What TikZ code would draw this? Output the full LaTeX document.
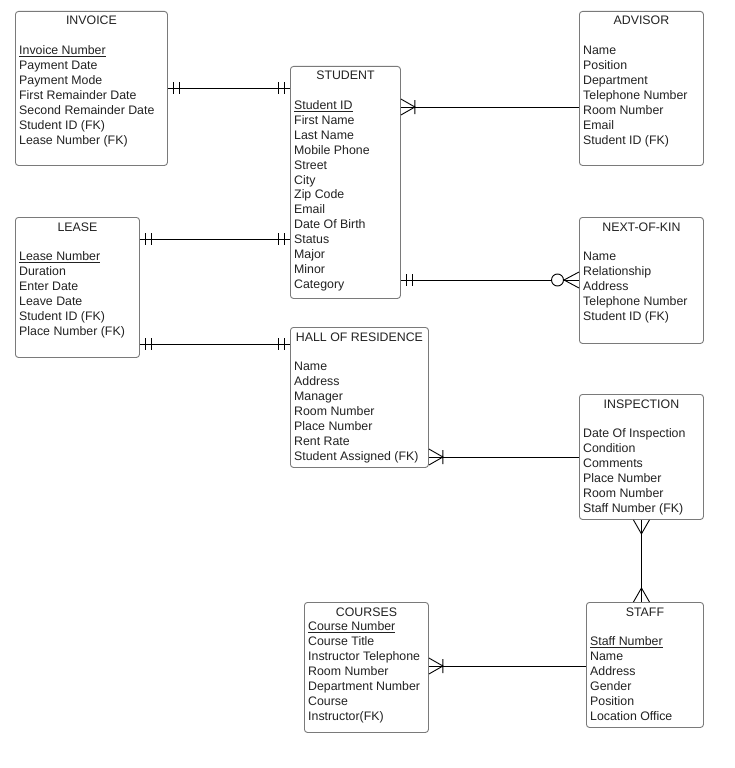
\documentclass[tikz,border=0pt]{standalone}
\usepackage{fontspec}
\setmainfont{Liberation Sans}
\usetikzlibrary{calc}
\definecolor{txt}{HTML}{222222}
\definecolor{boxgray}{HTML}{7A7A7A}
\newcommand\efont{\fontsize{12.35}{15}\selectfont}
\tikzset{
  ebox/.style={draw=boxgray, line width=0.9pt, rounded corners=3pt, fill=white, inner sep=0pt, anchor=north west},
  attr/.style={anchor=base west, inner sep=0pt, text=txt, font=\efont},
  ttl/.style={anchor=base, inner sep=0pt, text=txt, font=\efont},
  conn/.style={draw=black, line width=0.9pt}
}
% two bars (one and only one) at coordinate #1, direction #2 (+1 right, -1 left)
\newcommand\twobars[2]{%
  \draw[conn] ($(#1)+(#2*6,-6)$) -- ($(#1)+(#2*6,6)$)
              ($(#1)+(#2*12,-6)$) -- ($(#1)+(#2*12,6)$);}
% crow's foot with bar (one or many), foot at box side #1, pointing direction #2
\newcommand\crowbar[2]{%
  \draw[conn] ($(#1)+(0,-8)$) -- ($(#1)+(#2*14,0)$) -- ($(#1)+(0,8)$)
              ($(#1)+(#2*14,-7)$) -- ($(#1)+(#2*14,7)$);}
\begin{document}
\begin{tikzpicture}[x=1pt,y=-1pt]
\useasboundingbox (0,0) rectangle (734,768);

% ---------- entities ----------
% INVOICE
\node[ebox, minimum width=152pt, minimum height=154pt] (inv) at (15,11) {};
\node[ttl] (invT) at ($(inv.north)+(0,14)$) {INVOICE};
\foreach \t [count=\i] in {\underline{Invoice Number},Payment Date,Payment Mode,First Remainder Date,Second Remainder Date,Student ID (FK),Lease Number (FK)}
  \node[attr] (inv-\i) at ($(inv.north west)+(4,14+14.95*\i+14.95)$) {\t};

% STUDENT
\node[ebox, minimum width=110pt, minimum height=232pt] (stu) at (290,66) {};
\node[ttl] (stuT) at ($(stu.north)+(0,14)$) {STUDENT};
\foreach \t [count=\i] in {\underline{Student ID},First Name,Last Name,Mobile Phone,Street,City,Zip Code,Email,Date Of Birth,Status,Major,Minor,Category}
  \node[attr] (stu-\i) at ($(stu.north west)+(4,14+14.86*\i+14.86)$) {\t};

% ADVISOR
\node[ebox, minimum width=124pt, minimum height=154pt] (adv) at (579,11) {};
\node[ttl] (advT) at ($(adv.north)+(0,14)$) {ADVISOR};
\foreach \t [count=\i] in {Name,Position,Department,Telephone Number,Room Number,Email,Student ID (FK)}
  \node[attr] (adv-\i) at ($(adv.north west)+(4,14+14.9*\i+14.9)$) {\t};

% LEASE
\node[ebox, minimum width=124pt, minimum height=140pt] (lea) at (15,217) {};
\node[ttl] (leaT) at ($(lea.north)+(0,14)$) {LEASE};
\foreach \t [count=\i] in {\underline{Lease Number},Duration,Enter Date,Leave Date,Student ID (FK),Place Number (FK)}
  \node[attr] (lea-\i) at ($(lea.north west)+(4,14+14.9*\i+14.9)$) {\t};

% NEXT-OF-KIN
\node[ebox, minimum width=124pt, minimum height=126pt] (nok) at (579,217) {};
\node[ttl] (nokT) at ($(nok.north)+(0,14)$) {NEXT-OF-KIN};
\foreach \t [count=\i] in {Name,Relationship,Address,Telephone Number,Student ID (FK)}
  \node[attr] (nok-\i) at ($(nok.north west)+(4,14+14.9*\i+14.9)$) {\t};

% HALL OF RESIDENCE
\node[ebox, minimum width=138pt, minimum height=140pt] (hal) at (290,327) {};
\node[ttl] (halT) at ($(hal.north)+(0,14)$) {HALL OF RESIDENCE};
\foreach \t [count=\i] in {Name,Address,Manager,Room Number,Place Number,Rent Rate,Student Assigned (FK)}
  \node[attr] (hal-\i) at ($(hal.north west)+(4,14+14.9*\i+14.9)$) {\t};

% INSPECTION
\node[ebox, minimum width=124pt, minimum height=125pt] (ins) at (579,394) {};
\node[ttl] (insT) at ($(ins.north)+(0,14)$) {INSPECTION};
\foreach \t [count=\i] in {Date Of Inspection,Condition,Comments,Place Number,Room Number,Staff Number (FK)}
  \node[attr] (ins-\i) at ($(ins.north west)+(4,14+14.9*\i+14.9)$) {\t};

% COURSES
\node[ebox, minimum width=124pt, minimum height=130pt] (cou) at (304,602) {};
\node[ttl] (couT) at ($(cou.north)+(0,14)$) {COURSES};
\foreach \t [count=\i] in {\underline{Course Number},Course Title,Instructor Telephone,Room Number,Department Number,Course,Instructor(FK)}
  \node[attr] (cou-\i) at ($(cou.north west)+(4,14+14.9*\i)$) {\t};

% STAFF
\node[ebox, minimum width=117pt, minimum height=125pt] (sta) at (586,602) {};
\node[ttl] (staT) at ($(sta.north)+(0,14)$) {STAFF};
\foreach \t [count=\i] in {\underline{Staff Number},Name,Address,Gender,Position,Location Office}
  \node[attr] (sta-\i) at ($(sta.north west)+(4,14+14.9*\i+14.9)$) {\t};

% ---------- relationships ----------
% INVOICE -- STUDENT
\draw[conn] (inv.east |- 0,88) coordinate (r1a) -- (stu.west |- 0,88) coordinate (r1b);
\twobars{r1a}{1} \twobars{r1b}{-1}

% STUDENT -- ADVISOR
\draw[conn] (stu.east |- 0,107) coordinate (r2a) -- (adv.west |- 0,107) coordinate (r2b);
\crowbar{r2a}{1}

% LEASE -- STUDENT
\draw[conn] (lea.east |- 0,239) coordinate (r3a) -- (stu.west |- 0,239) coordinate (r3b);
\twobars{r3a}{1} \twobars{r3b}{-1}

% STUDENT -- NEXT-OF-KIN
\draw[conn] (stu.east |- 0,280) coordinate (r4a) -- ($(nok.west |- 0,280)+(-22,0)$);
\coordinate (r4b) at (nok.west |- 0,280);
\twobars{r4a}{1}
\draw[conn] ($(r4b)+(-16,0)$) -- (r4b);
\draw[conn] ($(r4b)+(0,-8)$) -- ($(r4b)+(-15,0)$) -- ($(r4b)+(0,8)$);
\draw[conn, fill=white] ($(r4b)+(-21.5,0)$) circle (6);

% LEASE -- HALL OF RESIDENCE
\draw[conn] (lea.east |- 0,344) coordinate (r5a) -- (hal.west |- 0,344) coordinate (r5b);
\twobars{r5a}{1} \twobars{r5b}{-1}

% HALL OF RESIDENCE -- INSPECTION
\draw[conn] (hal.east |- 0,457) coordinate (r6a) -- (ins.west |- 0,457) coordinate (r6b);
\crowbar{r6a}{1}

% INSPECTION -- STAFF
\draw[conn] (ins.south) coordinate (r7a) -- (ins.south |- sta.north) coordinate (r7b);
\draw[conn] ($(r7a)+(-8,0)$) -- ($(r7a)+(0,14)$) -- ($(r7a)+(8,0)$);
\draw[conn] ($(r7b)+(-8,0)$) -- ($(r7b)+(0,-14)$) -- ($(r7b)+(8,0)$);

% COURSES -- STAFF
\draw[conn] (cou.east |- 0,666) coordinate (r8a) -- (sta.west |- 0,666) coordinate (r8b);
\crowbar{r8a}{1}
\end{tikzpicture}
\end{document}
